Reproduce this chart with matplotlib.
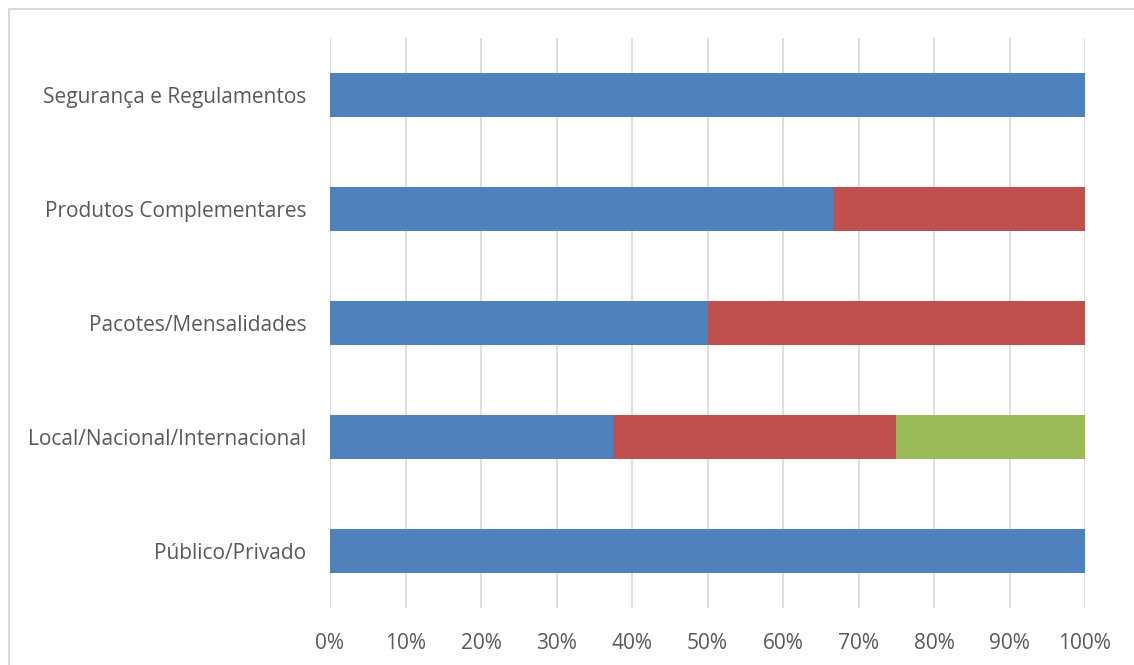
import matplotlib
matplotlib.use("Agg")
import matplotlib.pyplot as plt
from matplotlib.lines import Line2D
from matplotlib.ticker import FuncFormatter, MultipleLocator

categories = ["Público/Privado", "Local/Nacional/Internacional",
              "Pacotes/Mensalidades", "Produtos Complementares",
              "Segurança e Regulamentos"]
series_1 = [1.0, 0.375, 0.5, 0.6667, 1.0]
series_2 = [0.0, 0.375, 0.5, 0.3333, 0.0]
series_3 = [0.0, 0.25, 0.0, 0.0, 0.0]
colors = ["#4F81BD", "#C0504D", "#9BBB59"]

W, H = 1134, 665
fig = plt.figure(figsize=(W / 100, H / 100), dpi=100)
fig.patch.set_facecolor("white")

# outer chart-area frame: left and top edges
fx, fy = 8.5 / W, 1 - 8.5 / H
fig.add_artist(Line2D([fx, fx], [0, fy], transform=fig.transFigure,
                      color="#D9D9D9", linewidth=1.5))
fig.add_artist(Line2D([fx, 1], [fy, fy], transform=fig.transFigure,
                      color="#D9D9D9", linewidth=1.5))

left, right = 330 / W, 1085 / W
top, bottom = 1 - 38 / H, 1 - 608 / H
ax = fig.add_axes([left, bottom, right - left, top - bottom])

y = range(len(categories))
lefts = [0.0] * len(categories)
for vals, c in zip([series_1, series_2, series_3], colors):
    ax.barh(y, vals, left=lefts, height=0.38, color=c, zorder=3)
    lefts = [a + b for a, b in zip(lefts, vals)]

ax.set_xlim(0, 1)
ax.set_ylim(-0.5, len(categories) - 0.5)
ax.xaxis.set_major_locator(MultipleLocator(0.1))
ax.xaxis.set_major_formatter(FuncFormatter(lambda v, p: f"{round(v * 100)}%"))
ax.set_yticks(list(y))
ax.set_yticklabels(categories)

ax.grid(axis="x", color="#D9D9D9", linewidth=1.2, zorder=0)
for s in ax.spines.values():
    s.set_visible(False)
ax.tick_params(axis="both", length=0, labelsize=15, labelcolor="#595959")
ax.tick_params(axis="x", pad=18)
ax.tick_params(axis="y", pad=17)
for lab in ax.get_xticklabels() + ax.get_yticklabels():
    lab.set_fontfamily("Open Sans")

fig.savefig("out.png", dpi=100)
